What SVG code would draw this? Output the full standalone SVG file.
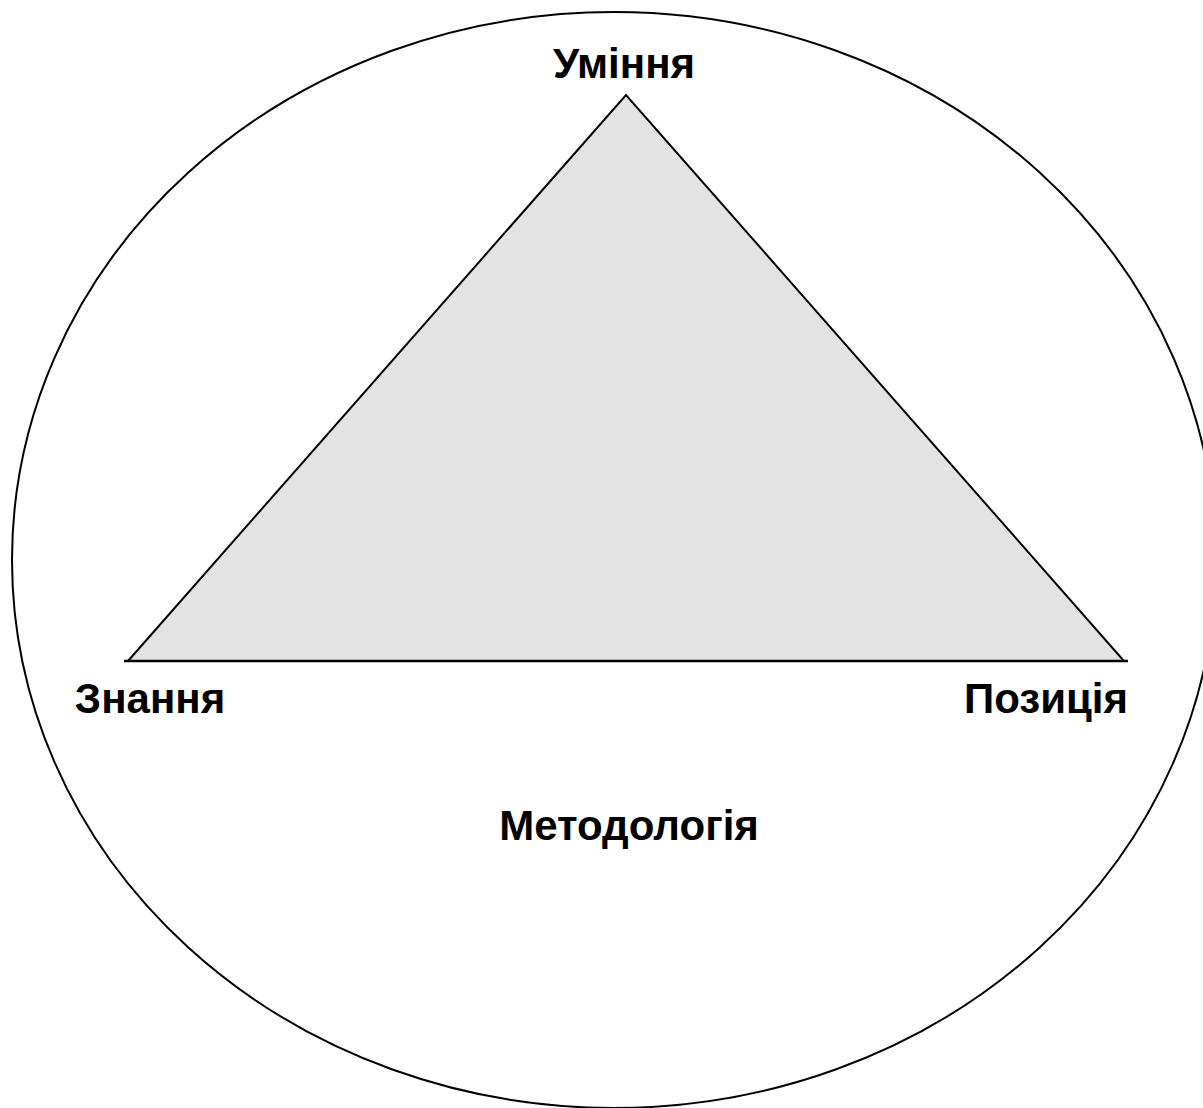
<svg xmlns="http://www.w3.org/2000/svg" width="1203" height="1108" viewBox="0 0 1203 1108">
<style>
.lbl{font-family:"Liberation Sans",Arial,sans-serif;font-weight:bold;font-size:42px;fill:#000;text-anchor:middle}
</style>
<rect width="1203" height="1108" fill="#fff"/>
<g id="outer">
<ellipse cx="614" cy="560" rx="602" ry="548" fill="none" stroke="#000" stroke-width="2"/>
</g>
<g id="triangle">
<polygon points="128,661 626,95 1124,661" fill="#e3e3e3" stroke="#000" stroke-width="2"/>
</g>
<g id="connectors">
<line x1="124" y1="661" x2="1128" y2="661" stroke="#000" stroke-width="2.5"/>
</g>
<g id="n-uminnia"><text class="lbl" x="624" y="78">Уміння</text></g>
<g id="n-znannia"><text class="lbl" x="150" y="713">Знання</text></g>
<g id="n-pozytsiia"><text class="lbl" x="1046" y="713">Позиція</text></g>
<g id="n-metodolohiia"><text class="lbl" x="629" y="840">Методологія</text></g>
</svg>
